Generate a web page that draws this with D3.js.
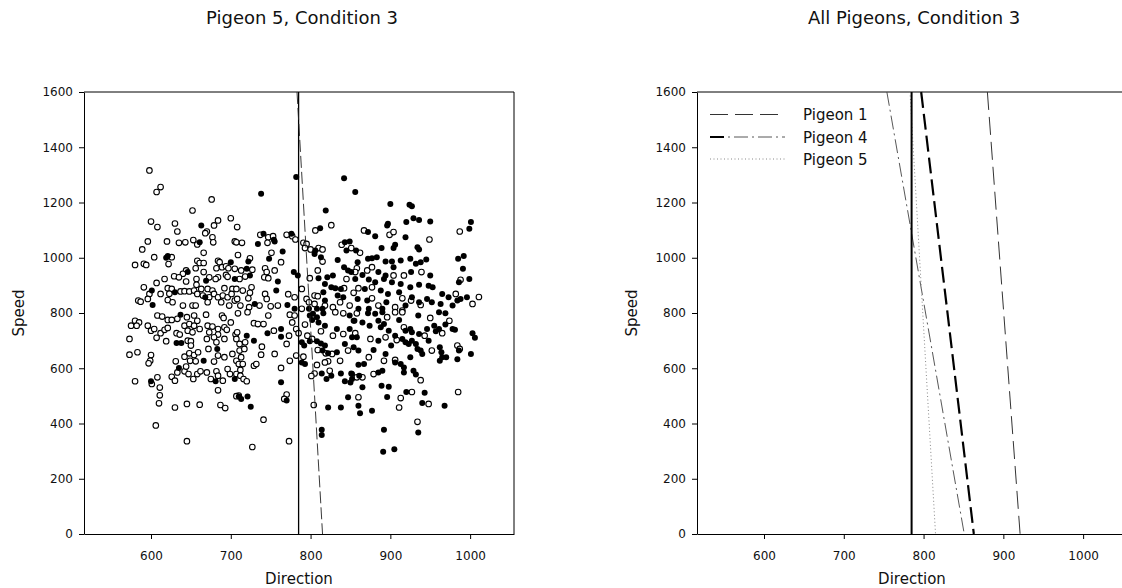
<!DOCTYPE html>
<html>
<head>
<meta charset="utf-8">
<title>Pigeons, Condition 3</title>
<script src="https://d3js.org/d3.v7.min.js"></script>
<style>
  body { margin: 0; background: #fff; }
  svg { display: block; font-family: "DejaVu Sans", sans-serif; }
</style>
</head>
<body>
<svg width="1122" height="588"></svg>
<script>
// axis ticks and ranges
const xTicks = [600, 700, 800, 900, 1000];
const yTicks = [0, 200, 400, 600, 800, 1000, 1200, 1400, 1600];
const xDomain = [516, 1055];
const yDomain = [0, 1600];

const titles = ["Pigeon 5, Condition 3", "All Pigeons, Condition 3"];
const legendNames = ["Pigeon 1", "Pigeon 4", "Pigeon 5"];

// Pigeon 5 trials: [direction, speed]
const openPoints = [
  [598,1316],[612,1256],[607,1238],[676,1211],[652,1171],[600,1131],[608,1111],[630,1124],[633,1095],[670,1095],
  [668,1089],[679,1117],[684,1135],[700,1143],[596,1059],[589,1030],[620,1059],[635,1054],[643,1056],[653,1064],
  [658,1048],[677,1074],[678,1056],[705,1059],[666,1018],[604,1002],[580,974],[591,978],[594,974],[626,1002],
  [622,977],[658,989],[661,981],[666,981],[656,962],[684,989],[686,984],[682,962],[689,966],[694,969],
  [697,962],[705,960],[644,954],[640,942],[629,933],[635,929],[617,923],[666,948],[657,923],[673,929],
  [684,929],[694,938],[696,931],[681,923],[607,909],[591,893],[644,914],[657,902],[621,890],[626,887],
  [637,878],[642,879],[648,878],[654,881],[663,887],[671,887],[677,881],[692,890],[702,887],[598,869],
  [612,869],[623,870],[658,869],[665,863],[673,857],[679,869],[684,857],[690,863],[696,857],[701,869],
  [584,845],[587,841],[596,851],[621,847],[627,839],[640,827],[652,827],[656,827],[671,839],[688,839],
  [698,827],[705,845],
  [608,791],[614,787],[621,775],[626,775],[633,779],[645,785],[654,791],[669,794],[689,791],[691,782],
  [700,766],[580,772],[575,754],[585,766],[582,754],[596,754],[600,736],[604,742],[612,727],[617,739],
  [621,746],[632,727],[636,722],[642,754],[648,760],[654,754],[658,772],[661,742],[646,736],[652,730],
  [671,754],[677,751],[684,742],[692,748],[673,730],[684,722],[695,739],[573,706],[607,710],[619,698],
  [646,700],[650,698],[650,682],[670,706],[679,712],[682,694],[692,706],[706,722],[573,649],[583,658],
  [600,648],[599,627],[597,618],[631,625],[642,642],[648,654],[654,648],[659,658],[649,627],[656,625],
  [672,670],[684,646],[679,624],[692,640],[702,652],[707,627],[633,585],[642,589],[644,606],[647,579],
  [653,561],[658,579],[662,589],[670,585],[675,561],[682,589],[684,573],[690,555],[696,597],[699,579],
  [707,579],[580,553],[601,543],[608,567],[626,569],[630,555],
  [708,1111],[826,1118],[806,1099],[737,1083],[747,1074],[753,1078],[770,1083],[777,1078],[781,1066],[707,1056],
  [714,1054],[746,1054],[791,1054],[795,1050],[793,1035],[800,1030],[810,1035],[815,1030],[815,986],[839,1047],
  [851,1035],[709,1010],[751,1018],[724,998],[763,984],[713,954],[727,957],[718,932],[743,962],[745,948],
  [742,929],[755,954],[747,926],[711,923],[809,954],[799,926],[845,923],[842,890],[854,873],[707,887],
  [715,881],[726,893],[724,873],[708,851],[722,853],[743,869],[745,851],[772,868],[780,857],[789,887],
  [795,851],[805,863],[809,861],[798,839],[805,833],[818,827],[828,821],[837,839],[849,827],[712,827],
  [723,821],[736,827],[750,824],[759,827],[789,815],
  [709,799],[721,803],[747,791],[774,794],[780,791],[793,758],[831,803],[841,799],[708,730],[707,706],
  [711,688],[718,694],[711,664],[717,670],[713,640],[710,615],[715,615],[712,594],[729,763],[734,760],
  [741,760],[754,736],[770,688],[773,718],[777,766],[782,742],[785,727],[739,678],[738,649],[755,652],
  [782,646],[796,718],[791,642],[802,706],[809,666],[819,654],[827,652],[841,724],[828,718],[813,734],
  [847,664],[837,627],[822,625],[818,621],[808,612],[824,591],[805,581],[801,572],[774,627],[763,601],
  [770,505],[712,573],[716,561],[720,553],[710,501],[729,609],[732,615],
  [867,1099],[899,1083],[904,1093],[949,1066],[987,1095],[862,1018],[858,962],[856,948],[871,954],[877,966],
  [904,936],[917,936],[939,948],[860,890],[877,893],[982,869],[915,853],[877,853],[885,827],[906,821],
  [926,845],[938,829],[915,809],
  [858,799],[896,785],[906,803],[915,803],[950,782],[974,772],[856,727],[875,706],[894,712],[908,702],
  [917,748],[943,718],[965,727],[984,682],[987,670],[952,664],[873,640],[892,627],[906,630],[858,567],
  [865,567],[879,579],[938,557],
  [611,502],[610,473],[630,458],[645,471],[661,468],[687,467],[693,456],[606,393],[645,336],[727,315],
  [741,414],[773,336],[767,489],[804,467],[860,495],[934,406],[948,471],[911,458],[913,492],[927,514],
  [985,514],[684,520],[611,530],[707,499],[1011,858],[1003,833],[988,920]
];

const filledPoints = [
  [663,1117],[661,1056],[621,1006],[619,1000],[700,984],[646,948],[669,917],[705,923],[630,875],[601,881],
  [668,857],[602,829],
  [637,794],[632,691],[638,691],[666,627],[683,670],[635,601],[681,553],[705,561],[600,553],
  [782,1292],[842,1288],[738,1232],[819,1171],[812,1107],[741,1087],[754,1065],[776,1087],[734,1050],[755,1059],
  [805,1014],[813,1002],[806,1026],[843,1056],[849,1059],[845,1026],[765,1023],[748,996],[722,986],[720,960],
  [724,936],[759,914],[779,948],[784,936],[810,926],[821,929],[828,936],[834,992],[842,966],[847,954],
  [851,948],[818,905],[826,893],[831,890],[838,887],[834,863],[841,857],[757,881],[816,875],[818,845],
  [730,833],[771,829],[780,815],[798,815],[808,815],[815,815],
  [799,791],[803,797],[808,785],[802,775],[816,799],[849,791],[854,772],[720,718],[729,700],[746,727],
  [763,742],[763,714],[789,694],[792,682],[789,621],[793,615],[799,698],[808,698],[813,690],[818,682],
  [815,664],[822,654],[833,658],[833,742],[818,754],[810,766],[849,742],[852,712],[843,688],[814,581],
  [826,573],[820,561],[838,581],[843,553],[851,581],[852,561],[763,549],
  [856,1238],[900,1195],[924,1192],[927,1186],[897,1123],[896,1117],[920,1129],[929,1143],[936,1137],[950,1131],
  [1001,1129],[999,1105],[872,1093],[881,1078],[919,1074],[889,1035],[906,1047],[904,1035],[934,1038],[936,1030],
  [857,1026],[872,996],[877,998],[883,1002],[859,984],[894,986],[902,986],[913,990],[925,996],[932,978],
  [938,984],[945,994],[985,996],[992,1006],[991,960],[865,938],[885,948],[894,936],[904,966],[926,948],
  [950,936],[856,923],[873,921],[881,911],[892,923],[902,911],[913,905],[925,893],[936,902],[948,899],
  [953,893],[986,911],[999,923],[868,887],[888,881],[897,869],[911,875],[927,857],[936,839],[946,851],
  [965,869],[973,857],[988,851],[996,857],[859,851],[871,845],[895,839],[919,827],[952,839],[963,833],
  [978,827],[984,845],[860,815],[873,815],[890,815],
  [872,799],[881,797],[890,803],[935,791],[961,803],[969,799],[855,772],[865,766],[874,754],[885,772],
  [888,748],[892,760],[898,736],[911,775],[919,736],[925,742],[927,730],[936,724],[946,742],[955,754],
  [957,734],[961,742],[969,758],[978,742],[981,739],[858,712],[885,700],[901,682],[906,718],[915,706],
  [919,694],[923,688],[927,700],[932,688],[934,670],[938,664],[940,652],[948,700],[962,676],[964,658],
  [970,640],[986,664],[984,633],[1001,652],[854,676],[860,664],[879,666],[894,652],[906,621],[913,615],
  [917,603],[917,585],[925,640],[962,627],[965,640],[860,613],[867,615],[852,579],[861,573],[885,585],
  [890,591],[929,591],[932,577],[889,537],[865,531],
  [710,498],[713,489],[721,498],[725,461],[770,483],[822,458],[838,458],[814,377],[814,358],[847,495],
  [860,464],[862,437],[877,446],[892,377],[891,298],[905,307],[896,496],[920,514],[935,367],[940,474],
  [943,511],[968,464],[898,533],[850,548],[1003,727],[1006,710]
];

// boundary direction and fitted lines: [direction, speed] end points
const solidDirection = 785;
const pigeon5Line = [[783, 1600], [815, 0]];
const pigeon1Line = [[880, 1600], [921, 0]];
const pigeon4Line = [[754, 1600], [851, 0]];
const heavyLine = [[797, 1600], [863, 0]];

const svg = d3.select("svg");
const pw = 430, ph = 442;

function makePanel(left, top, id) {
    const g = svg.append("g").attr("transform", `translate(${left},${top})`);
    const x = d3.scaleLinear().domain(xDomain).range([0, pw]);
    const y = d3.scaleLinear().domain(yDomain).range([ph, 0]);

    svg.append("clipPath").attr("id", id)
        .append("rect").attr("x", left).attr("y", top).attr("width", pw).attr("height", ph);

    const xAxis = g.append("g").attr("transform", `translate(0,${ph})`)
        .call(d3.axisBottom(x).tickValues(xTicks).tickSize(5).tickSizeOuter(0).tickPadding(12).tickFormat(d3.format("d")));
    const yAxis = g.append("g")
        .call(d3.axisLeft(y).tickValues(yTicks).tickSize(5).tickSizeOuter(0).tickPadding(6).tickFormat(d3.format("d")));
    [xAxis, yAxis].forEach(a => {
        a.attr("font-family", null).attr("font-size", 12);
        a.selectAll("text").attr("fill", "#111");
        a.selectAll("line, path").attr("stroke", "#000");
    });

    // top and right frame
    g.append("path")
        .attr("d", `M0,0H${pw}V${ph}`)
        .attr("fill", "none").attr("stroke", "#000");

    g.append("text")
        .attr("transform", `translate(-60,${ph / 2}) rotate(-90)`)
        .attr("text-anchor", "middle").attr("font-size", 15).attr("fill", "#111")
        .text("Speed");
    g.append("text")
        .attr("x", pw / 2).attr("y", ph + 50)
        .attr("text-anchor", "middle").attr("font-size", 15).attr("fill", "#111")
        .text("Direction");

    const plot = g.append("g").attr("clip-path", `url(#${id})`)
        .attr("transform", null);
    return {g, x, y, plot};
}

function drawLine(p, pts, width, dash, color) {
    const line = d3.line().x(d => p.x(d[0])).y(d => p.y(d[1]));
    p.g.append("path")
        .attr("d", line(pts))
        .attr("fill", "none")
        .attr("stroke", color)
        .attr("stroke-width", width)
        .attr("stroke-dasharray", dash);
}

// ---- left panel ----
const left = makePanel(84, 92, "clipL");

left.g.append("g").selectAll("circle")
    .data(openPoints).enter()
    .append("circle")
        .attr("cx", d => left.x(d[0]))
        .attr("cy", d => left.y(d[1]))
        .attr("r", 2.8)
        .attr("fill", "#fff")
        .attr("stroke", "#000")
        .attr("stroke-width", 1.1);

left.g.append("g").selectAll("circle")
    .data(filledPoints).enter()
    .append("circle")
        .attr("cx", d => left.x(d[0]))
        .attr("cy", d => left.y(d[1]))
        .attr("r", 3)
        .attr("fill", "#000");

drawLine(left, [[solidDirection, 0], [solidDirection, 1600]], 1.3, null, "#000");
drawLine(left, pigeon5Line, 0.9, "12,4", "#222");

svg.append("text")
    .attr("x", 206).attr("y", 23.5)
    .attr("font-size", 18).attr("fill", "#111")
    .text(titles[0]);

// ---- right panel ----
const right = makePanel(697, 92, "clipR");

drawLine(right, pigeon4Line, 0.9, "14,4,2,4", "#444");
drawLine(right, pigeon5Line, 1, "1,2.5", "#888");
drawLine(right, heavyLine, 2.2, "16,6", "#000");
drawLine(right, pigeon1Line, 1, "18,7", "#333");
drawLine(right, [[solidDirection, 0], [solidDirection, 1600]], 2, null, "#000");

svg.append("text")
    .attr("x", 808).attr("y", 23.5)
    .attr("font-size", 18).attr("fill", "#111")
    .text(titles[1]);

// legend
const legendY = [22.5, 45, 67];
const legend = right.g.append("g");
legend.selectAll("text")
    .data(legendNames).enter()
    .append("text")
        .attr("x", 106)
        .attr("y", (d, i) => legendY[i] + 5.5)
        .attr("font-size", 15).attr("fill", "#111")
        .text(d => d);

legend.append("line").attr("x1", 13).attr("x2", 88).attr("y1", legendY[0]).attr("y2", legendY[0])
    .attr("stroke", "#333").attr("stroke-width", 1).attr("stroke-dasharray", "18,7");
legend.append("line").attr("x1", 13).attr("x2", 88).attr("y1", legendY[1]).attr("y2", legendY[1])
    .attr("stroke", "#444").attr("stroke-width", 0.9).attr("stroke-dasharray", "14,4,2,4");
legend.append("line").attr("x1", 13).attr("x2", 27).attr("y1", legendY[1]).attr("y2", legendY[1])
    .attr("stroke", "#000").attr("stroke-width", 2);
legend.append("line").attr("x1", 13).attr("x2", 88).attr("y1", legendY[2]).attr("y2", legendY[2])
    .attr("stroke", "#888").attr("stroke-width", 1).attr("stroke-dasharray", "1,2.5");
</script>
</body>
</html>
